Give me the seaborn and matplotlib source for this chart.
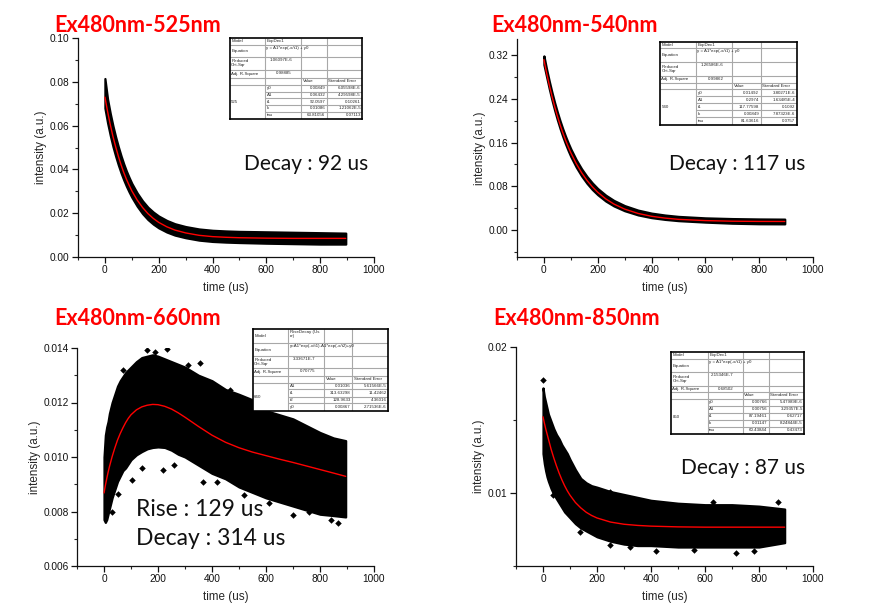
import matplotlib
matplotlib.use("Agg")
import matplotlib.pyplot as plt
import seaborn as sns
from matplotlib.ticker import MultipleLocator, FormatStrFormatter

# ---- data (time in us, intensity in a.u.) ----
t525 = [0, 10, 20, 30, 40, 50, 60, 70, 80, 90, 100, 120, 140, 160, 180, 200, 230, 260,
        300, 350, 400, 450, 500, 600, 700, 800, 895]
fit525 = [0.0730, 0.0664, 0.0604, 0.0550, 0.0503, 0.0460, 0.0421, 0.0386, 0.0355, 0.0328,
          0.0302, 0.0260, 0.0226, 0.0198, 0.0176, 0.0158, 0.0138, 0.0123, 0.0110, 0.0099,
          0.0093, 0.0090, 0.0088, 0.0086, 0.0085, 0.0085, 0.0085]
hi525 = [0.0815, 0.0720, 0.0655, 0.0598, 0.0548, 0.0503, 0.0462, 0.0425, 0.0392, 0.0363,
         0.0336, 0.0292, 0.0256, 0.0227, 0.0205, 0.0187, 0.0167, 0.0152, 0.0139, 0.0128,
         0.0122, 0.0119, 0.0117, 0.0115, 0.0113, 0.0111, 0.0109]
lo525 = [0.0680, 0.0612, 0.0555, 0.0504, 0.0460, 0.0420, 0.0384, 0.0352, 0.0323, 0.0297,
         0.0273, 0.0232, 0.0198, 0.0171, 0.0150, 0.0133, 0.0114, 0.0100, 0.0088, 0.0077,
         0.0071, 0.0068, 0.0066, 0.0063, 0.0061, 0.0059, 0.0059]

t540 = [0, 10, 20, 30, 40, 50, 60, 70, 80, 90, 100, 120, 140, 160, 180, 200, 230, 260,
        300, 350, 400, 450, 500, 600, 700, 800, 895]
fit540 = [0.312, 0.2876, 0.2654, 0.2449, 0.2260, 0.2087, 0.1928, 0.1783, 0.1649, 0.1526,
          0.1413, 0.1215, 0.1048, 0.0907, 0.0788, 0.0688, 0.0566, 0.0472, 0.0379, 0.0299,
          0.0247, 0.0214, 0.0191, 0.0168, 0.0157, 0.0153, 0.0152]
hi540 = [0.319, 0.2946, 0.2724, 0.2519, 0.2330, 0.2157, 0.1998, 0.1853, 0.1719, 0.1596,
         0.1483, 0.1285, 0.1118, 0.0977, 0.0858, 0.0756, 0.0634, 0.0538, 0.0443, 0.0360,
         0.0305, 0.0270, 0.0245, 0.0218, 0.0205, 0.0198, 0.0195]
lo540 = [0.303, 0.2806, 0.2584, 0.2379, 0.2190, 0.2017, 0.1858, 0.1713, 0.1579, 0.1456,
         0.1343, 0.1150, 0.0988, 0.0852, 0.0738, 0.0643, 0.0526, 0.0437, 0.0349, 0.0272,
         0.0222, 0.0190, 0.0167, 0.0140, 0.0120, 0.0110, 0.0108]

t660 = [0, 5, 10, 15, 20, 30, 40, 50, 60, 70, 80, 90, 100, 120, 140, 160, 180, 200, 225,
        250, 275, 300, 350, 400, 450, 500, 550, 600, 650, 700, 750, 800, 850, 895]
fit660 = [0.00868, 0.00895, 0.0092, 0.00943, 0.00964, 0.01001, 0.01033, 0.01062, 0.01086,
          0.01107, 0.01126, 0.01142, 0.01155, 0.01173, 0.01184, 0.0119, 0.01193, 0.01192,
          0.01186, 0.01176, 0.01162, 0.01146, 0.01112, 0.0108, 0.01054, 0.01034, 0.01018,
          0.01005, 0.00992, 0.0098, 0.00967, 0.00954, 0.00941, 0.00929]
hi660 = [0.0100, 0.0108, 0.0111, 0.0113, 0.0116, 0.0120, 0.0123, 0.0126, 0.0128, 0.01295,
         0.0131, 0.0132, 0.0133, 0.0135, 0.01365, 0.0137, 0.01375, 0.0137, 0.0136, 0.0135,
         0.0134, 0.0133, 0.0130, 0.0128, 0.01248, 0.0123, 0.0121, 0.0117, 0.01155, 0.0114,
         0.01115, 0.0109, 0.0107, 0.0106]
lo660 = [0.0077, 0.0076, 0.0077, 0.0079, 0.0081, 0.0085, 0.0088, 0.0091, 0.0093, 0.0095,
         0.0096, 0.00975, 0.0099, 0.01008, 0.0102, 0.0103, 0.01035, 0.01037, 0.01035,
         0.01025, 0.0101, 0.0100, 0.0097, 0.0094, 0.0092, 0.0089, 0.0087, 0.0085, 0.00835,
         0.0082, 0.00805, 0.0079, 0.00785, 0.0078]
out660_t = [72, 158, 190, 232, 312, 356, 467, 220, 368, 102, 53, 28, 701, 868,
            140, 260, 420, 520, 610, 760, 840]
out660_v = [0.01318, 0.01392, 0.01385, 0.01398, 0.01337, 0.01345, 0.01245, 0.00951,
            0.00908, 0.00915, 0.00866, 0.00798, 0.00786, 0.00758, 0.0096, 0.0097,
            0.0091, 0.0086, 0.0083, 0.0080, 0.0077]

t850 = [0, 5, 10, 15, 20, 30, 40, 50, 60, 70, 80, 90, 100, 120, 140, 160, 180, 200, 250,
        300, 350, 400, 500, 600, 700, 800, 895]
fit850 = [0.01522, 0.0148, 0.0144, 0.01405, 0.0137, 0.0130, 0.0124, 0.01185, 0.01135,
          0.0109, 0.0105, 0.01015, 0.00985, 0.00935, 0.00898, 0.00868, 0.00846, 0.00829,
          0.00801, 0.00786, 0.00778, 0.00773, 0.00768, 0.00766, 0.00766, 0.00766, 0.00766]
hi850 = [0.0172, 0.0166, 0.0162, 0.0158, 0.0154, 0.0149, 0.0144, 0.0140, 0.0137, 0.0133,
         0.0130, 0.0127, 0.0123, 0.0116, 0.0110, 0.0107, 0.0105, 0.0104, 0.0101, 0.0099,
         0.0097, 0.0095, 0.0093, 0.0092, 0.0092, 0.0091, 0.0089]
lo850 = [0.0127, 0.0120, 0.0115, 0.0111, 0.0108, 0.0103, 0.0099, 0.0096, 0.0093, 0.0090,
         0.0087, 0.0085, 0.0083, 0.0079, 0.0076, 0.0074, 0.0072, 0.0070, 0.0067, 0.0065,
         0.0064, 0.0064, 0.0063, 0.0063, 0.0063, 0.0063, 0.0066]
out850_t = [0, 38, 137, 248, 248, 631, 872, 716, 322, 180, 420, 560, 780]
out850_v = [0.01777, 0.00986, 0.00731, 0.00645, 0.01009, 0.0094, 0.0094, 0.00588,
            0.00633, 0.0101, 0.0060, 0.0061, 0.0060]

titles = ["Ex480nm-525nm", "Ex480nm-540nm", "Ex480nm-660nm", "Ex480nm-850nm"]

# fit-report tables (Origin style, very small)
table525 = [["Model", "ExpDec1"], ["Equation", "y = A1*exp(-x/t1) + y0"],
            ["Reduced\nChi-Sqr", "1.06097E-6"], ["Adj. R-Square", "0.98885"]]
params525 = [["y0", "0.00849", "6.05598E-6"], ["A1", "0.06432", "4.29598E-5"],
             ["t1", "92.0597", "0.10261"], ["k", "0.01086", "1.21062E-5"],
             ["tau", "63.81056", "0.07113"]]
table540 = [["Model", "ExpDec1"], ["Equation", "y = A1*exp(-x/t1) + y0"],
            ["Reduced\nChi-Sqr", "1.26586E-6"], ["Adj. R-Square", "0.99862"]]
params540 = [["y0", "0.01492", "3.80271E-6"], ["A1", "0.2974", "1.63485E-4"],
             ["t1", "117.77598", "0.1092"], ["k", "0.00849", "7.87323E-6"],
             ["tau", "81.63616", "0.0757"]]
table660 = [["Model", "RiseDecay (Us\ner)"], ["Equation", "y=A1*exp(-x/t1)-A1*exp(-x/t2)+y0"],
            ["Reduced\nChi-Sqr", "3.33671E-7"], ["Adj. R-Square", "0.70775"]]
params660 = [["A1", "0.01036", "5.61566E-5"], ["t1", "313.63298", "11.42462"],
             ["t2", "128.9633", "4.36016"], ["y0", "0.00867", "2.71536E-6"]]
table850 = [["Model", "ExpDec1"], ["Equation", "y = A1*exp(-x/t1) + y0"],
            ["Reduced\nChi-Sqr", "2.15346E-7"], ["Adj. R-Square", "0.68502"]]
params850 = [["y0", "0.00766", "5.47989E-6"], ["A1", "0.00756", "3.29357E-5"],
             ["t1", "87.19461", "0.62717"], ["k", "0.01147", "8.24844E-5"],
             ["tau", "60.43844", "0.43473"]]

W, H = 878, 610
sns.set_style("ticks")
plt.rcParams['font.family'] = ['Liberation Sans', 'DejaVu Sans']
TITLE_FONT = ['Lato', 'DejaVu Sans']

fig = plt.figure(figsize=(W / 100, H / 100), dpi=100)


def px_rect(x0, y0, x1, y1):
    return [x0 / W, 1 - y1 / H, (x1 - x0) / W, (y1 - y0) / H]


def style_axes(ax, ylim, ymaj, ymin, yfmt):
    ax.set_xlim(-100, 1000)
    ax.set_ylim(*ylim)
    ax.xaxis.set_major_locator(MultipleLocator(200))
    ax.xaxis.set_minor_locator(MultipleLocator(100))
    ax.yaxis.set_major_locator(MultipleLocator(ymaj))
    ax.yaxis.set_minor_locator(MultipleLocator(ymin))
    ax.yaxis.set_major_formatter(FormatStrFormatter(yfmt))
    ax.tick_params(which='major', direction='out', length=4, width=0.9,
                   labelsize=7.3, colors='#111111', pad=2)
    ax.tick_params(which='minor', direction='out', length=2.5, width=0.8)
    sns.despine(ax=ax)
    for s in ("left", "bottom"):
        ax.spines[s].set_linewidth(0.9)
        ax.spines[s].set_color('#111111')
    ax.set_xlabel("time (us)", fontsize=8.4, labelpad=5)
    ax.set_ylabel("intensity (a.u.)", fontsize=8.4, labelpad=2)


def draw_panel(rect, t, fit, hi, lo, ylim, ymaj, ymin, yfmt, out_t=None, out_v=None):
    ax = fig.add_axes(px_rect(*rect))
    ax.fill_between(t, lo, hi, color='black', edgecolor='black', lw=1.6, zorder=2)
    if out_t is not None:
        sns.scatterplot(x=out_t, y=out_v, ax=ax, color='black', s=11,
                        marker='D', linewidth=0, zorder=2)
    sns.lineplot(x=t, y=fit, ax=ax, color='red', lw=1.0, zorder=3)
    style_axes(ax, ylim, ymaj, ymin, yfmt)
    return ax


def draw_table(cols, rows, head, params, group):
    x0, x1 = cols[0], cols[-1]
    y0, y1 = rows[0], rows[-1]
    tax = fig.add_axes(px_rect(x0, y0, x1, y1), zorder=5)
    tax.set_facecolor('white')
    tax.set_xlim(x0, x1)
    tax.set_ylim(y1, y0)
    tax.set_xticks([])
    tax.set_yticks([])
    for s in tax.spines.values():
        s.set_visible(True)
        s.set_color('black')
        s.set_linewidth(1.2)
    g = '#a8a8a8'
    for c in cols[1:-1]:
        tax.vlines(c, y0, y1, color=g, lw=0.8)
    for i, r in enumerate(rows[1:-1], start=1):
        if i <= 5:
            tax.hlines(r, x0, x1, color=g, lw=0.8)
        else:
            tax.hlines(r, cols[1], x1, color=g, lw=0.8)
    fs = 3.2
    for i, (lab, val) in enumerate(head):
        yc = (rows[i] + rows[i + 1]) / 2
        tax.text(x0 + 1.5, yc, lab, fontsize=fs, va='center', ha='left', linespacing=0.9)
        if i < 2:
            tax.text(cols[1] + 1.5, rows[i] + 1, val, fontsize=fs, va='top', ha='left',
                     linespacing=0.9)
        else:
            tax.text(cols[2] - 9, rows[i] + 1, val, fontsize=fs, va='top', ha='right')
    yc = (rows[4] + rows[5]) / 2
    tax.text(cols[2] + 1.5, yc, "Value", fontsize=fs, va='center', ha='left')
    tax.text(cols[3] + 1.5, yc, "Standard Error", fontsize=fs, va='center', ha='left')
    for j, (p, v, e) in enumerate(params):
        yc = (rows[5 + j] + rows[6 + j]) / 2
        tax.text(cols[1] + 1.5, yc, p, fontsize=fs, va='center', ha='left')
        tax.text(cols[3] - 1.5, yc, v, fontsize=fs, va='center', ha='right')
        tax.text(x1 - 1.5, yc, e, fontsize=fs, va='center', ha='right')
    tax.text(x0 + 1.5, (rows[5] + rows[-1]) / 2, group, fontsize=fs, va='center', ha='left')


def ftext(x, y, s, **kw):
    fig.text(x / W, 1 - y / H, s, va='baseline', ha='left', **kw)


# panels
draw_panel((78, 38, 374, 257), t525, fit525, hi525, lo525, (0, 0.10), 0.02, 0.01, '%.2f')
draw_panel((517, 39, 813, 257), t540, fit540, hi540, lo540, (-0.05, 0.35), 0.08, 0.04, '%.2f')
draw_panel((77, 348, 374, 566), t660, fit660, hi660, lo660, (0.006, 0.014), 0.002, 0.001,
           '%.3f', out660_t, out660_v)
draw_panel((516, 347, 813, 566), t850, fit850, hi850, lo850, (0.005, 0.02), 0.01, 0.005,
           '%.2f', out850_t, out850_v)

# tables
draw_table([229.7, 265, 301, 326.7, 362.3],
           [38, 45, 56.7, 70, 77.7, 85, 91.7, 98.3, 105, 111.7, 119.3],
           table525, params525, "525")
draw_table([660, 696, 732.3, 760.7, 796.7],
           [41.7, 48.3, 61.7, 75.7, 82.7, 89.3, 96.3, 103.3, 110.3, 117.3, 125.3],
           table540, params540, "540")
draw_table([252.7, 288.3, 324.3, 352.3, 388.3],
           [329.3, 343.3, 356, 368.3, 376, 382.7, 389.3, 396.7, 403.3, 411],
           table660, params660, "660")
draw_table([671, 707.7, 742.7, 768.7, 804.3],
           [351.7, 359.3, 371.7, 386, 392, 398.7, 405.7, 412.7, 419.7, 426.7, 434.3],
           table850, params850, "850")

# titles
for (x, y), s in zip([(54, 31.5), (491, 31.5), (54, 325), (493, 325)], titles):
    ftext(x, y, s, color='red', fontsize=15.5, fontweight='bold', family=TITLE_FONT)

# lifetimes
ann = dict(color='#111111', family=TITLE_FONT)
ftext(244, 169.5, "Decay : 92 us", fontsize=15, **ann)
ftext(669, 170, "Decay : 117 us", fontsize=15, **ann)
ftext(136, 516, "Rise : 129 us", fontsize=16.5, **ann)
ftext(136, 545, "Decay : 314 us", fontsize=16.5, **ann)
ftext(681, 474, "Decay : 87 us", fontsize=15, **ann)

fig.savefig("out.png", dpi=100)
